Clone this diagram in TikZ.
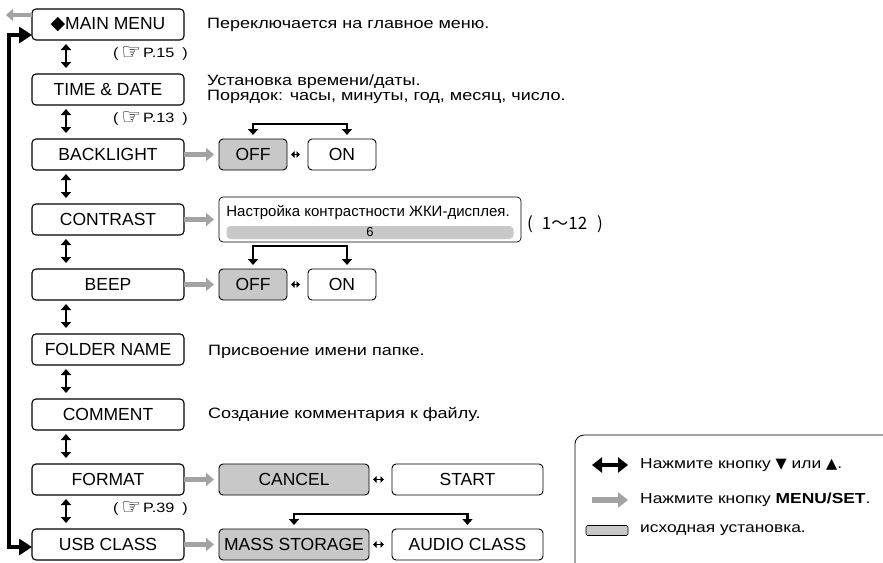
\documentclass[tikz,border=0pt]{standalone}
\usepackage{fontspec}
\setmainfont{Liberation Sans}
\newfontfamily\descfont[FakeStretch=1.2]{Liberation Sans}
\newfontfamily\dvsfont{DejaVu Sans}
\newfontfamily\jpfont{Noto Sans CJK JP}
\usetikzlibrary{positioning,arrows.meta}
\definecolor{boxgray}{HTML}{C8C8C8}
\definecolor{arrowgray}{HTML}{A3A3A3}
\newcommand{\pagehand}{\raisebox{-2pt}{\dvsfont\fontsize{22}{22}\selectfont☞}}

\begin{document}
\begin{tikzpicture}[x=1pt,y=1pt,
    every node/.style={font=\fontsize{17.5}{20}\selectfont, text=black},
    menubox/.style={draw, rounded corners=4pt, line width=1.1pt, outer sep=0pt,
      minimum width=152pt, minimum height=31pt, inner sep=0pt},
    optbox/.style={draw, rounded corners=4pt, line width=0.9pt, outer sep=0pt,
      minimum height=31pt, inner sep=0pt},
    dflt/.style={optbox, fill=boxgray},
    desc/.style={anchor=west, inner sep=0pt, align=left,
      font=\descfont\fontsize{15}{15}\selectfont},
    keytext/.style={desc, font=\descfont\fontsize{14.5}{15}\selectfont},
    pref/.style={anchor=base east, inner sep=0pt,
      font=\descfont\fontsize{13.5}{13.5}\selectfont},
    updown/.style={line width=2.6pt, shorten <=4pt, shorten >=6pt,
      {Triangle[length=6pt,width=10pt]}-{Triangle[length=6pt,width=10pt]}},
    toset/.style={arrowgray, line width=5pt, shorten >=5pt,
      -{Triangle[length=8pt,width=13pt]}},
    toggle/.style={line width=1.4pt, shorten <=4pt, shorten >=8pt,
      {Triangle[length=3.5pt,width=6.5pt]}-{Triangle[length=3.5pt,width=6.5pt]}},
    bracket/.style={line width=2.4pt,
      {Triangle[length=6pt,width=10pt]}-{Triangle[length=6pt,width=10pt]}},
    loopline/.style={line width=3.5pt,
      {Triangle[length=13pt,width=16pt]}-{Triangle[length=13pt,width=16pt]}}
  ]
  \useasboundingbox (0,0) rectangle (883,-562);

  % menu column
  \node[menubox] (n1) at (108,-24.5) {{\dvsfont\fontsize{19}{19}\selectfont◆}MAIN MENU};
  \node[menubox, below=34pt of n1] (n2) {TIME \& DATE};
  \node[menubox, below=34pt of n2] (n3) {BACKLIGHT};
  \node[menubox, below=34pt of n3] (n4) {CONTRAST};
  \node[menubox, below=34pt of n4] (n5) {BEEP};
  \node[menubox, below=34pt of n5] (n6) {FOLDER NAME};
  \node[menubox, below=34pt of n6] (n7) {COMMENT};
  \node[menubox, below=34pt of n7] (n8) {FORMAT};
  \node[menubox, below=34pt of n8] (n9) {USB CLASS};

  \foreach \a/\b in {n1/n2,n2/n3,n3/n4,n4/n5,n5/n6,n6/n7,n7/n8,n8/n9}
    \draw[updown] ([xshift=-42pt]\a.south) -- ([xshift=-42pt]\b.north);

  \node[pref] (r1) at ([xshift=4pt,yshift=-17pt]n1.south east)
    {(\hspace{3pt}\pagehand\hspace{2pt}P.15\hspace{8pt})};
  \node[pref] (r2) at ([xshift=4pt,yshift=-17pt]n2.south east)
    {(\hspace{3pt}\pagehand\hspace{2pt}P.13\hspace{8pt})};
  \node[pref] (r8) at ([xshift=4pt,yshift=-17pt]n8.south east)
    {(\hspace{3pt}\pagehand\hspace{2pt}P.39\hspace{8pt})};

  \coordinate (quit) at ([xshift=-26pt,yshift=9.5pt]n1.west);
  \draw[arrowgray, line width=4pt, -{Triangle[length=7pt,width=12pt]}]
    ([yshift=9.5pt]n1.west) -- (quit);
  \draw[loopline] ([yshift=-10.5pt]n1.west) -- ++(-23pt,0) |- ([yshift=-2.5pt]n9.west);

  % descriptions
  \node[desc, right=23pt of n1] (d1) {Переключается на главное меню.};
  \node[desc, right=23pt of n2] (d2) {Установка времени/даты.\\Порядок: часы, минуты, год, месяц, число.};
  \node[desc, right=24pt of n6, yshift=-2pt] (d6) {Присвоение имени папке.};
  \node[desc, right=24pt of n7] (d7) {Создание комментария к файлу.};

  % backlight
  \node[dflt, minimum width=68pt, right=35pt of n3] (off3) {OFF};
  \node[optbox, minimum width=68pt, right=21pt of off3] (on3) {ON};
  \draw[toset] (n3.east) -- (off3.west);
  \draw[toggle] (off3.east) -- (on3.west);
  \draw[bracket] ([yshift=4pt]off3.north) -- ++(0,11pt) -| ([xshift=5pt,yshift=4pt]on3.north);

  % contrast
  \node[optbox, line width=0.7pt, minimum width=302pt, minimum height=45pt, right=35pt of n4] (c4) {};
  \node[inner sep=0pt, font=\fontsize{15}{15}\selectfont] (c4t) at ([xshift=-2pt,yshift=7.5pt]c4.center)
    {Настройка контрастности ЖКИ-дисплея.};
  \node[fill=boxgray, rounded corners=4pt, minimum width=287pt, minimum height=13pt,
    inner sep=0pt, font=\fontsize{13}{13}\selectfont] (c4v) at ([yshift=-13pt]c4.center) {6};
  \node[anchor=west, inner sep=0pt, font=\jpfont\fontsize{17}{17}\selectfont] (c4r)
    at ([xshift=6pt,yshift=-4.5pt]c4.east) {(\hspace{9pt}1～12\hspace{10pt})};
  \draw[toset] (n4.east) -- (c4.west);

  % beep
  \node[dflt, minimum width=68pt, right=35pt of n5] (off5) {OFF};
  \node[optbox, minimum width=68pt, right=21pt of off5] (on5) {ON};
  \draw[toset] (n5.east) -- (off5.west);
  \draw[toggle] (off5.east) -- (on5.west);
  \draw[bracket] ([yshift=4pt]off5.north) -- ++(0,19pt) -| ([xshift=5pt,yshift=4pt]on5.north);

  % format
  \node[dflt, minimum width=150pt, right=35pt of n8] (cancel8) {CANCEL};
  \node[optbox, minimum width=151pt, right=23pt of cancel8] (start8) {START};
  \draw[toset] (n8.east) -- (cancel8.west);
  \draw[toggle] (cancel8.east) -- (start8.west);

  % usb class
  \node[dflt, minimum width=150pt, right=35pt of n9] (mass9) {MASS STORAGE};
  \node[optbox, minimum width=151pt, right=23pt of mass9] (audio9) {AUDIO CLASS};
  \draw[toset] (n9.east) -- (mass9.west);
  \draw[toggle] (mass9.east) -- (audio9.west);
  \draw[bracket] ([yshift=4pt]mass9.north) -- ++(0,11pt) -| ([yshift=4pt]audio9.north);

  % legend
  \begin{scope}
    \clip (0,0) rectangle (883,-562);
    \draw[line width=0.8pt, rounded corners=9pt] (575,-435) rectangle (895,-577);
  \end{scope}
  \coordinate (k1a) at (592,-465);
  \coordinate (k1b) at (628,-465);
  \draw[line width=4.5pt, {Triangle[length=10pt,width=15pt]}-{Triangle[length=10pt,width=15pt]}] (k1a) -- (k1b);
  \node[keytext] (k1) at (640,-465) {Нажмите кнопку {\dvsfont▼} или {\dvsfont▲}.};
  \coordinate (k2a) at (592,-500);
  \coordinate (k2b) at (628,-500);
  \draw[arrowgray, line width=6pt, -{Triangle[length=10pt,width=15pt]}] (k2a) -- (k2b);
  \node[keytext] (k2) at (640,-500) {Нажмите кнопку \textbf{MENU/SET}.};
  \node[draw, fill=boxgray, rounded corners=1.5pt, line width=0.6pt, minimum width=42pt,
    minimum height=10pt, inner sep=0pt] (k3box) at (607,-530.5) {};
  \node[keytext] (k3) at (640,-530) {исходная установка.};
\end{tikzpicture}
\end{document}
